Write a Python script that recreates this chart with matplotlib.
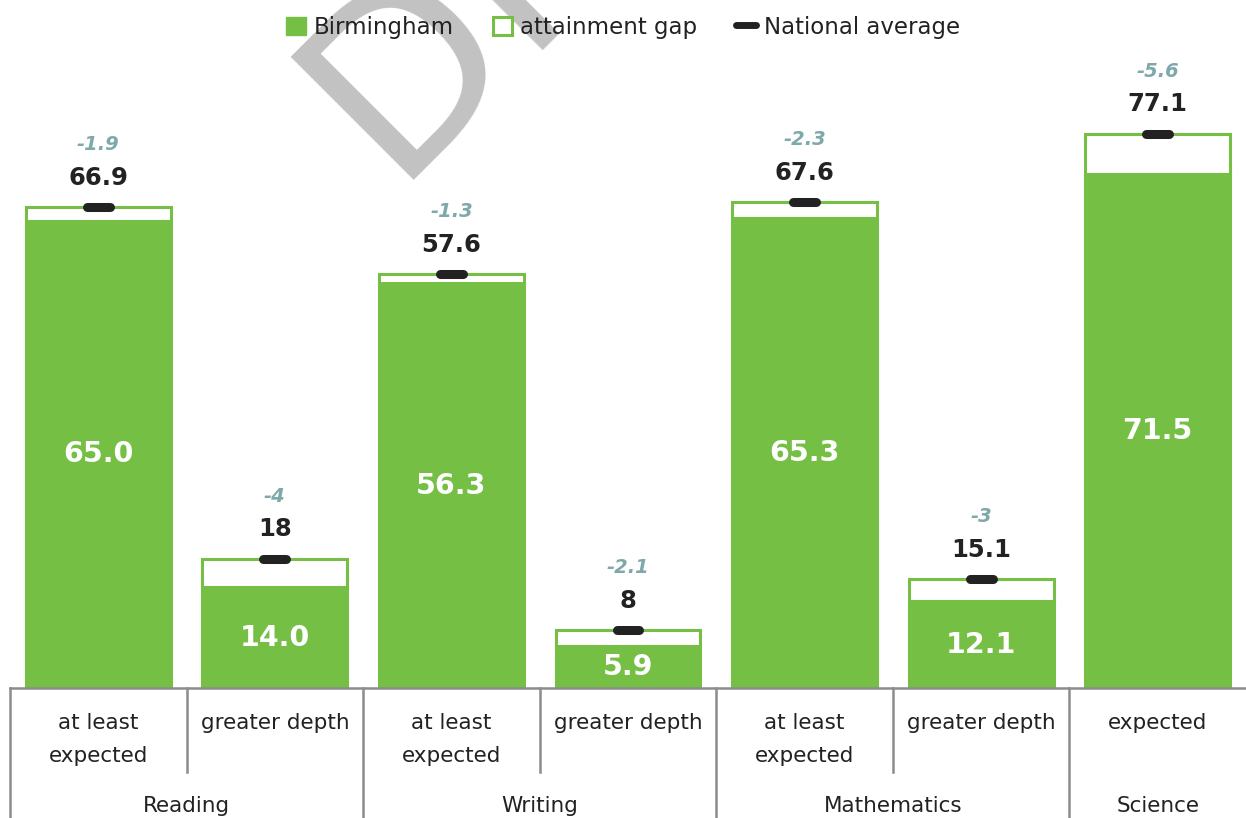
import matplotlib
matplotlib.use("Agg")
import matplotlib.pyplot as plt
import matplotlib.transforms as mtransforms
from matplotlib.lines import Line2D
from matplotlib.patches import Patch

plt.rcParams["font.family"] = ["DejaVu Sans"]

SUBJECTS = ["Reading", "Writing", "Mathematics", "Science"]
SUBJECT_SIZES = [2, 2, 2, 1]
LEVELS = ["at least\nexpected", "greater depth", "at least\nexpected", "greater depth",
          "at least\nexpected", "greater depth", "expected"]
BIRMINGHAM = [65.0, 14.0, 56.3, 5.9, 65.3, 12.1, 71.5]
NATIONAL = [66.9, 18, 57.6, 8, 67.6, 15.1, 77.1]
GAP = [-1.9, -4, -1.3, -2.1, -2.3, -3, -5.6]

GREEN = "#74BF44"
GAP_COLOR = "#7FA8AA"
DARK = "#222222"
AXIS_GREY = "#8C8C8C"

fig = plt.figure(figsize=(12.46, 8.18), dpi=100)
ax = fig.add_axes([10 / 1246, 130 / 818, 1 - 10 / 1246, 688 / 818])
ax.patch.set_alpha(0)

# watermark, mostly off the top of the page like in the source
fig.text(390 / 1246, 1 - 180 / 818, "DRAFT", rotation=45, rotation_mode="anchor",
         ha="left", va="baseline", fontsize=172, color="#C2C2C2", zorder=-1)

x = list(range(len(BIRMINGHAM)))
w = 0.82
gaps_height = [n - b for n, b in zip(NATIONAL, BIRMINGHAM)]
ax.bar(x, BIRMINGHAM, width=w, color=GREEN, edgecolor=GREEN, linewidth=2.2, zorder=2)
ax.bar(x, gaps_height, bottom=BIRMINGHAM, width=w, color="white", edgecolor=GREEN,
       linewidth=2.2, zorder=2)
ax.hlines(NATIONAL, [i - 0.065 for i in x], [i + 0.065 for i in x], colors=DARK,
          linewidth=6.5, capstyle="round", zorder=4)

for i in x:
    ax.text(i, BIRMINGHAM[i] / 2, f"{BIRMINGHAM[i]:.1f}", ha="center", va="center",
            color="white", fontsize=20.5, fontweight="bold", zorder=5)
    ax.annotate(f"{NATIONAL[i]:g}", (i, NATIONAL[i]), xytext=(0, 21),
                textcoords="offset points", ha="center", va="center",
                color=DARK, fontsize=17.5, fontweight="bold")
    ax.annotate(f"{GAP[i]:g}", (i, NATIONAL[i]), xytext=(0, 45),
                textcoords="offset points", ha="center", va="center",
                color=GAP_COLOR, fontsize=14, fontweight="bold", style="italic")

ax.set_xlim(-0.5, len(x) - 0.5)
ax.set_ylim(0, 688 / 7.19)
ax.set_xticks([])
ax.set_yticks([])
for s in ax.spines.values():
    s.set_visible(False)

# two-level category axis drawn by hand below the bars
trans = mtransforms.blended_transform_factory(ax.transData, fig.transFigure)
y_axis = 130 / 818
ax.plot([-0.5, len(x) - 0.5], [y_axis, y_axis], transform=trans, color=AXIS_GREY,
        lw=1.8, clip_on=False)
for i in x:
    for j, line in enumerate(LEVELS[i].split("\n")):
        ax.text(i, 1 - (723 + 33 * j) / 818, line, transform=trans, ha="center",
                va="center", fontsize=15.5, color=DARK)

start = 0
for name, size in zip(SUBJECTS, SUBJECT_SIZES):
    left = start - 0.5
    ax.plot([left, left], [y_axis, 0], transform=trans, color=AXIS_GREY, lw=1.8,
            clip_on=False)
    for k in range(1, size):
        xs = start + k - 0.5
        ax.plot([xs, xs], [y_axis, 1 - 772 / 818], transform=trans, color=AXIS_GREY,
                lw=1.8, clip_on=False)
    ax.text(start + (size - 1) / 2, 1 - 806 / 818, name, transform=trans,
            ha="center", va="center", fontsize=15.5, color=DARK)
    start += size

handles = [
    Patch(facecolor=GREEN, edgecolor=GREEN, label="Birmingham"),
    Patch(facecolor="white", edgecolor=GREEN, linewidth=2.2, label="attainment gap"),
    Line2D([], [], color=DARK, lw=5, solid_capstyle="round", label="National average"),
]
fig.legend(handles=handles, loc="upper center", bbox_to_anchor=(0.5, 1.006), ncol=3,
           frameon=False, fontsize=16.5, handlelength=0.85, handleheight=0.85,
           handletextpad=0.35, columnspacing=1.7, labelcolor=DARK)

fig.savefig("out.png", dpi=100)
